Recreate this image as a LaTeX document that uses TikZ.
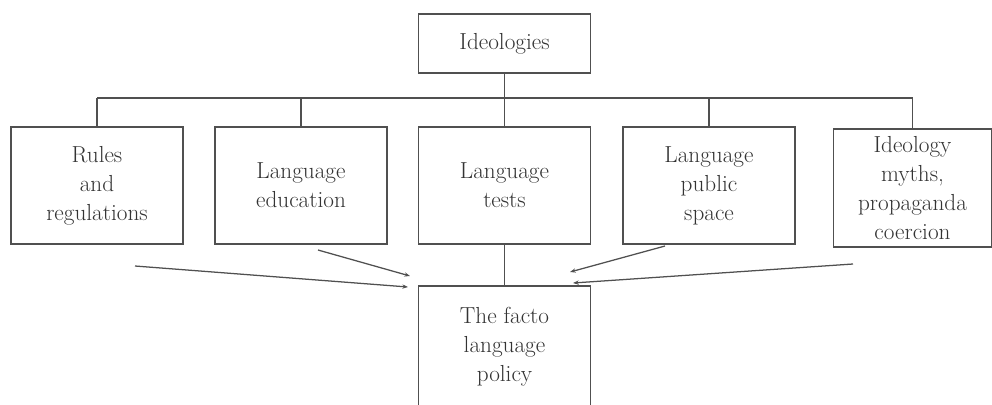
\documentclass[tikz,border=0pt]{standalone}
\usepackage{fontspec}
\usepackage{tikz}
\usepackage{xcolor}
\usetikzlibrary{arrows.meta,positioning,calc}
\definecolor{LineGray}{HTML}{505050}
\definecolor{TextGray}{HTML}{333333}
\tikzset{
    % Base node style
    basenode/.style={
        draw=LineGray,
        fill=white,
        line width=1.2pt,
        minimum height=2.93cm,
        minimum width=4.3cm,
        align=center,
        text=TextGray,
        inner sep=2pt,
        font=\fontsize{16.5}{20.6}\selectfont
    },
    % Top box
    topnode/.style={
        basenode,
        minimum height=1.48cm
    },
    % Plain link (no tip)
    linkline/.style={
        line width=1.1pt,
        draw=LineGray
    },
    % Arrow style
    myarrow/.style={
        -{Stealth[length=4pt,width=3pt]},
        line width=0.9pt,
        draw=LineGray
    }
}
\begin{document}
\begin{tikzpicture}[x=0.025cm, y=-0.025cm]
        \useasboundingbox (0,0) rectangle (992,404);

        % Top
        \node[topnode] (ideo) at (504.5,43.5) {Ideologies};

        % Middle row
        \node[basenode] (rules) at (97,185.5) {Rules\\and\\regulations};
        \node[basenode] (edu) at (301,185.5) {Language\\education};
        \node[basenode] (tests) at (504.5,185.5) {Language\\tests};
        \node[basenode] (pub) at (709,185.5) {Language\\public\\space};
        \node[basenode, minimum width=3.95cm, minimum height=2.95cm] (myth) at (912.5,188) {Ideology\\myths,\\propaganda\\coercion};

        % Bottom
        \node[basenode, minimum height=3.05cm] (facto) at (504.5,347) {The facto\\language\\policy};

        % Bus
        \coordinate (bus) at (0,98);
        \draw[linkline] (rules.north |- bus) -- (myth.north |- bus);
        \foreach \n in {rules,edu,pub,myth}
            \draw[linkline] (\n.north) -- (\n.north |- bus);
        \draw[linkline] (ideo) -- (tests);
        \draw[linkline] (tests) -- (facto);

        % Arrow ends
        \coordinate (rulesout) at (135,266);
        \coordinate (eduout) at (318,250);
        \coordinate (pubout) at (665,246);
        \coordinate (mythout) at (853,264);
        \coordinate (factoinl) at (408,287);
        \coordinate (factoinel) at (410,276);
        \coordinate (factoinpr) at (570,272);
        \coordinate (factoinr) at (573,283);

        % Arrows
        \draw[myarrow] (rulesout) -- (factoinl);
        \draw[myarrow] (eduout) -- (factoinel);
        \draw[myarrow] (pubout) -- (factoinpr);
        \draw[myarrow] (mythout) -- (factoinr);
    \end{tikzpicture}
\end{document}
